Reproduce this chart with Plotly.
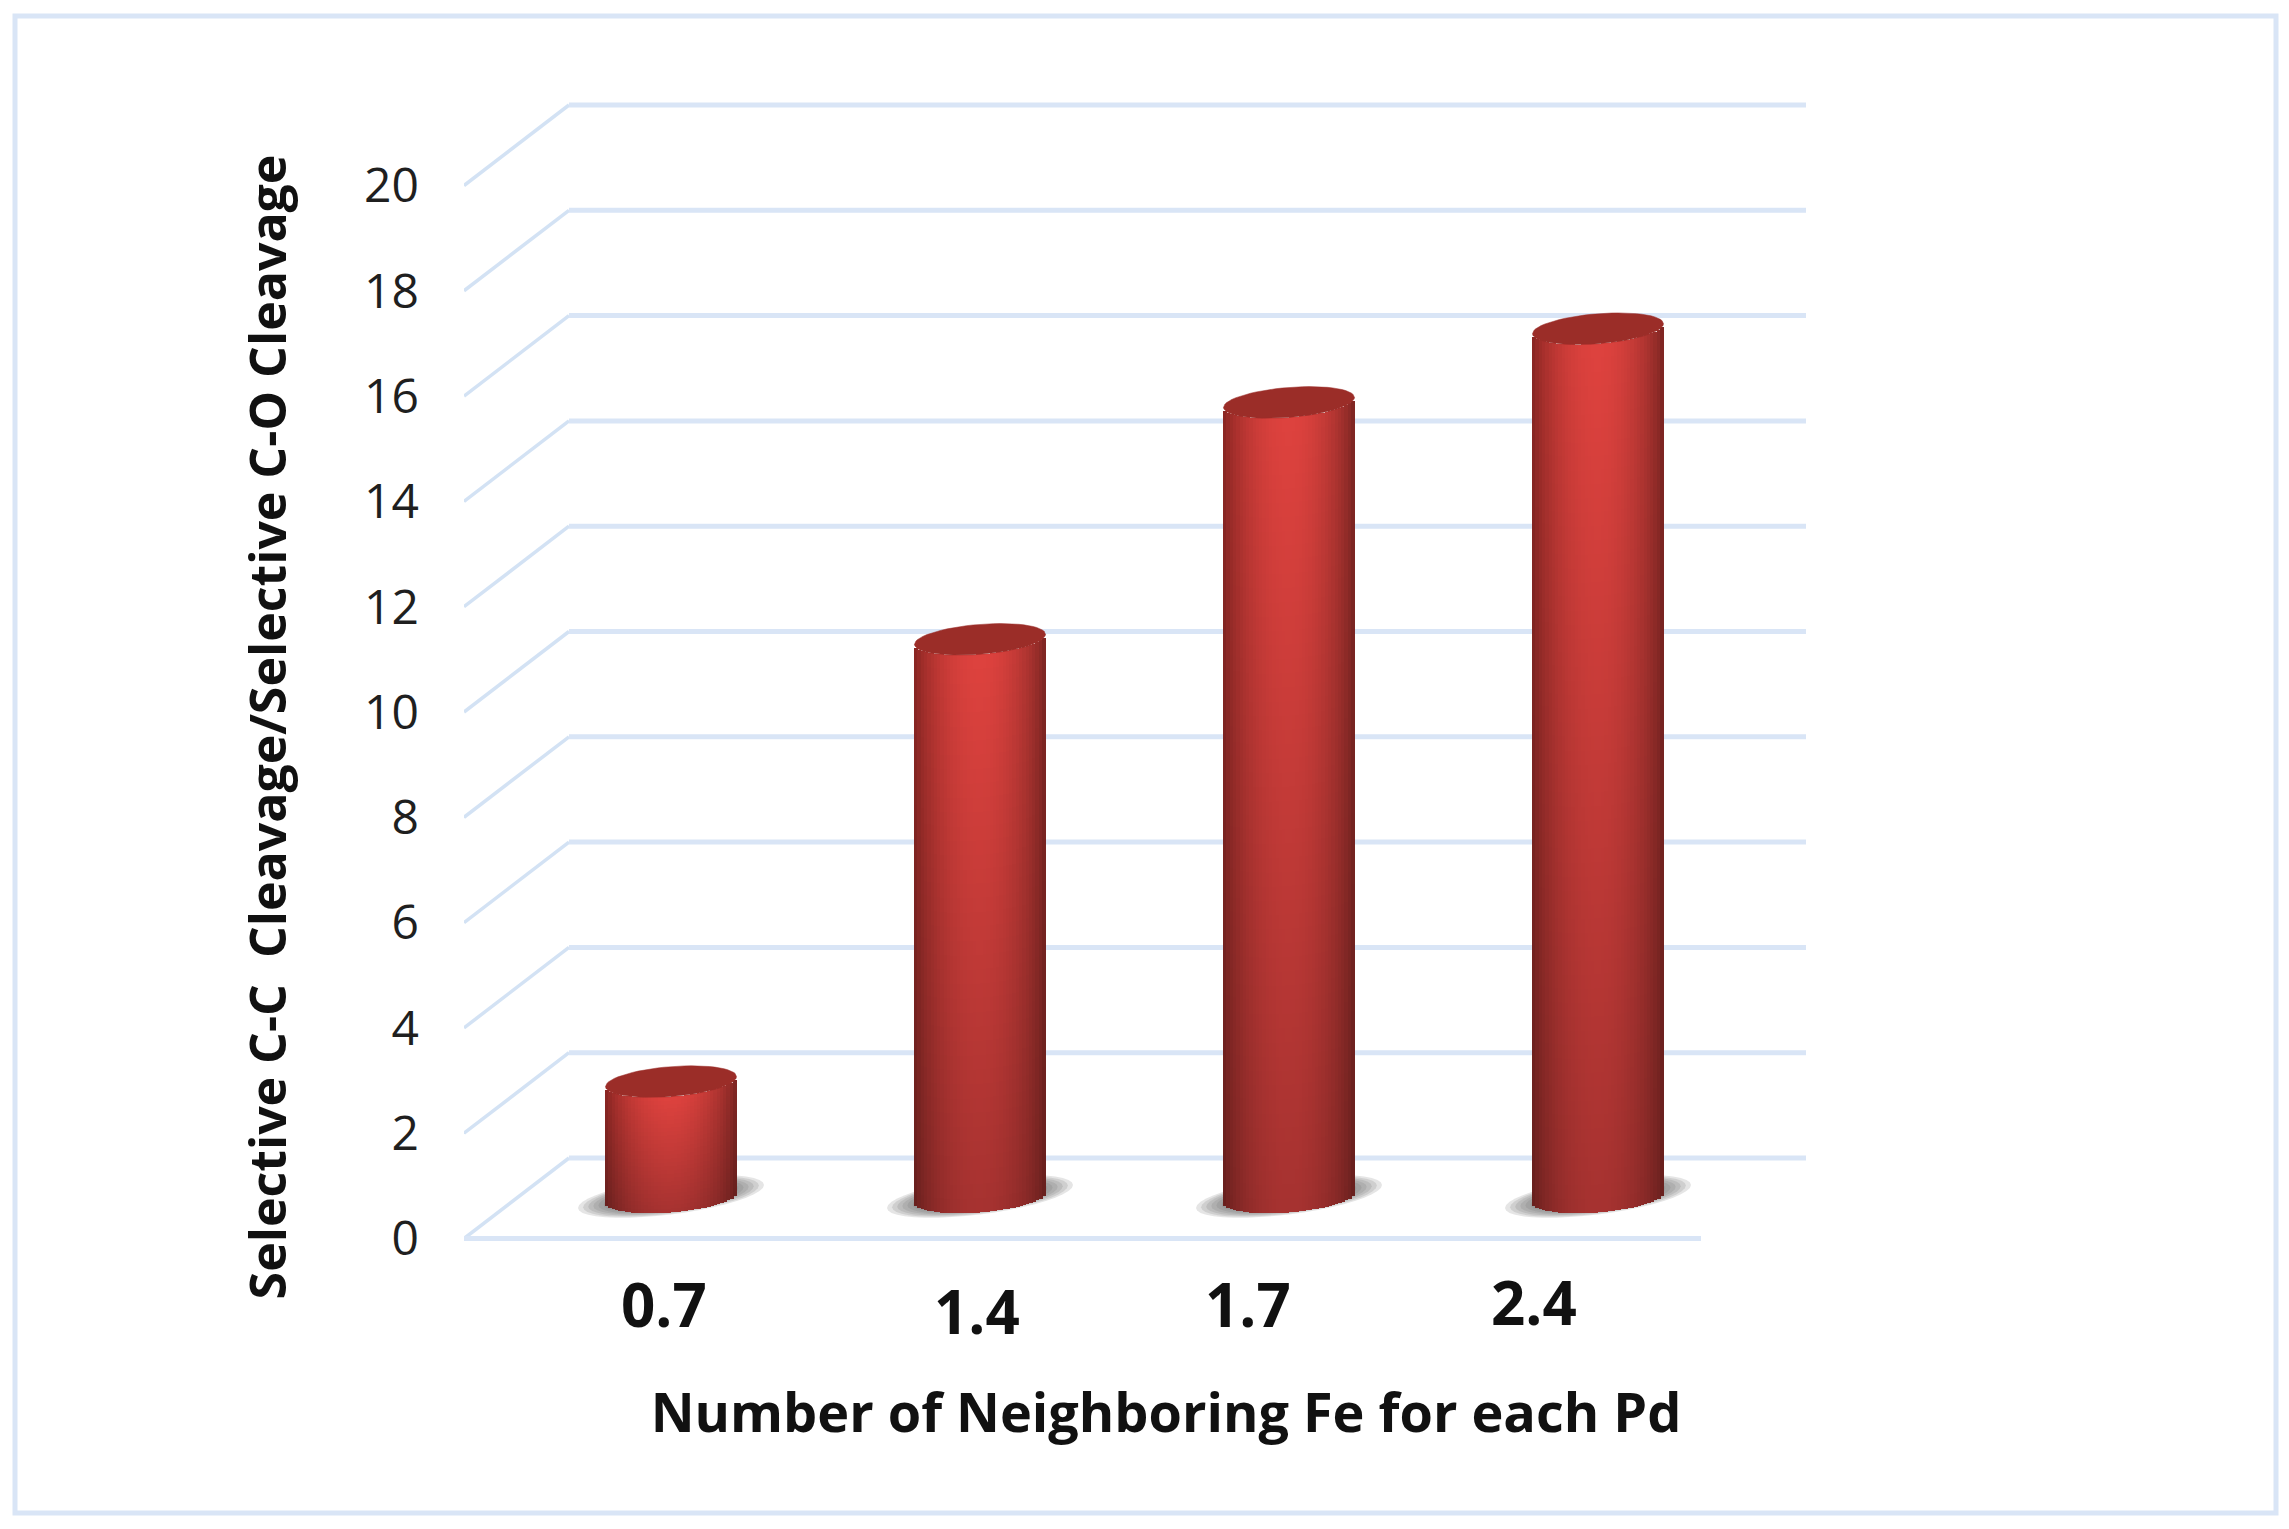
import math
import plotly.graph_objects as go

# values
categories = ["0.7", "1.4", "1.7", "2.4"]
ratio_values = [2.2, 10.6, 15.1, 16.5]
y_ticks = list(range(0, 22, 2))

x_title = "Number of Neighboring Fe for each Pd"
y_title = "Selective C-C \u00a0Cleavage/Selective C-O Cleavage"

# label nudges, the labels do not sit centred under the bars in the original
label_xshift = [-7, -3, -41, -64]
label_yshift = [-65, -72, -65, -63]

W, H = 2289, 1529
PLOT_L, PLOT_R, PLOT_T, PLOT_B = 464, 1868, 60, 1394
ZERO_X, PX_PER_CAT = 671, 309        # pixel of first category, pixels per category
ZERO_Y, PX_PER_UNIT = 1238.5, 52.65  # pixel of value 0, pixels per unit

GRID = "#d9e5f6"
GRID_SIDE = "#d3e2f4"
TEXT = "#1f1f1f"
FONT = "Open Sans"

# depth of the fake 3d box
DEPTH_X = 105 / PX_PER_CAT
DEPTH_Y = 80.5 / PX_PER_UNIT
FLOOR_L = (PLOT_L - ZERO_X) / PX_PER_CAT
FLOOR_R = (1701 - ZERO_X) / PX_PER_CAT
BASE_Y = 0.78   # cylinder base centre sits part way into the floor

# cylinder shape in units of the axes
HALF_W = 65.5 / PX_PER_CAT
CAP_B = 15 / PX_PER_UNIT
CAP_TILT = 5 / PX_PER_UNIT

COLS = 40
ROW_PX = 14


def lerp(a, b, t):
    return a + (b - a) * t


def shade(u, t):
    # u -1..1 across the cylinder, t 0..1 from bottom to top
    h = math.cos(u * math.pi / 2) ** 0.7
    side = 130 if u < 0 else 118
    top = [lerp(side, 222, h), lerp(35, 66, h), lerp(32, 62, h)]
    bot = [lerp(98, 166, h), lerp(30, 50, h), lerp(28, 48, h)]
    r, g, b = [lerp(bot[i], top[i], t) for i in range(3)]
    return f"rgb({r:.0f},{g:.0f},{b:.0f})"


def front_arc(u):
    # lower edge of the tilted ellipse
    return CAP_TILT * u - CAP_B * math.sqrt(max(0, 1 - u * u))


def ellipse(cx, cy, a, b, tilt, n=60):
    xs, ys = [], []
    for i in range(n + 1):
        th = 2 * math.pi * i / n
        xs.append(cx + a * math.cos(th))
        ys.append(cy + tilt * math.cos(th) + b * math.sin(th))
    return xs, ys


fig = go.Figure()

# gridlines of the wall and side panel, below the traces
for v in y_ticks:
    back_y = v + DEPTH_Y
    fig.add_shape(type="line", xref="x", yref="y", layer="below",
                  x0=FLOOR_L, x1=FLOOR_L + DEPTH_X, y0=v, y1=back_y,
                  line=dict(color=GRID_SIDE, width=3.5))
    fig.add_shape(type="line", xref="x", yref="y", layer="below",
                  x0=FLOOR_L + DEPTH_X, x1=FLOOR_R + DEPTH_X, y0=back_y, y1=back_y,
                  line=dict(color=GRID, width=5))
fig.add_shape(type="line", xref="x", yref="y", layer="below",
              x0=FLOOR_L, x1=FLOOR_R, y0=0, y1=0,
              line=dict(color=GRID, width=5))

# outer frame of the picture
fig.add_shape(type="rect", xref="paper", yref="paper", layer="below",
              x0=(15 - PLOT_L) / (PLOT_R - PLOT_L), x1=(2276 - PLOT_L) / (PLOT_R - PLOT_L),
              y0=(PLOT_B - 1513) / (PLOT_B - PLOT_T), y1=(PLOT_B - 16) / (PLOT_B - PLOT_T),
              line=dict(color=GRID, width=5))

for i, val in enumerate(ratio_values):
    # soft floor shadow
    for k in range(8):
        f = 1.0 - k * 0.055
        xs, ys = ellipse(i, BASE_Y + 1 / PX_PER_UNIT, 93 * f / PX_PER_CAT, 18 * f / PX_PER_UNIT,
                         11.5 * f / PX_PER_UNIT, n=40)
        path = "M " + " L ".join(f"{a:.4f},{b:.4f}" for a, b in zip(xs, ys)) + " Z"
        fig.add_shape(type="path", xref="x", yref="y", layer="below", path=path,
                      fillcolor="#707070", opacity=0.18, line=dict(width=0))

    # the body is built from small bars so it can carry a shaded surface
    bx, by, bbase, bcol = [], [], [], []
    rows = max(30, int((val * PX_PER_UNIT) / ROW_PX))
    for c in range(COLS):
        u = -1 + (c + 0.5) * 2 / COLS
        y0 = BASE_Y + front_arc(u)
        y1 = BASE_Y + val + front_arc(u)
        step = (y1 - y0) / rows
        for r in range(rows):
            bx.append(i + u * HALF_W)
            bbase.append(y0 + r * step)
            by.append(step * 1.25 if r < rows - 1 else step)
            bcol.append(shade(u, (r + 0.5) / rows))
    fig.add_trace(go.Bar(x=bx, y=by, base=bbase, width=HALF_W * 2 / COLS * 1.2,
                         marker=dict(color=bcol, line=dict(width=0)),
                         hoverinfo="skip", showlegend=False))

    # cap
    xs, ys = ellipse(i, BASE_Y + val, HALF_W, CAP_B, CAP_TILT)
    fig.add_trace(go.Scatter(x=xs, y=ys, mode="lines", fill="toself", fillcolor="#9b2d28",
                             line=dict(width=0.5, color="#9b2d28"),
                             hoverinfo="skip", showlegend=False))

    # category label
    fig.add_annotation(x=i, y=0, xref="x", yref="y", text=categories[i], showarrow=False,
                       xshift=label_xshift[i], yshift=label_yshift[i],
                       font=dict(family=FONT, size=60, color="#111111", weight=700))

fig.update_xaxes(range=[(PLOT_L - ZERO_X) / PX_PER_CAT, (PLOT_R - ZERO_X) / PX_PER_CAT],
                 showgrid=False, zeroline=False, showline=False, showticklabels=False,
                 title=dict(text=x_title, standoff=0,
                            font=dict(family=FONT, size=54, color="#111111", weight=700)))
fig.update_yaxes(range=[(ZERO_Y - PLOT_B) / PX_PER_UNIT, (ZERO_Y - PLOT_T) / PX_PER_UNIT],
                 tickvals=y_ticks, showgrid=False, zeroline=False, showline=False,
                 ticks="", ticklabelstandoff=44,
                 tickfont=dict(family=FONT, size=48, color=TEXT),
                 title=dict(text=y_title, standoff=61,
                            font=dict(family=FONT, size=50, color="#111111", weight=700)))

fig.update_layout(width=W, height=H, barmode="overlay", bargap=0,
                  margin=dict(l=PLOT_L, r=W - PLOT_R, t=PLOT_T, b=H - PLOT_B),
                  paper_bgcolor="white", plot_bgcolor="rgba(0,0,0,0)", showlegend=False)

fig.write_html("out.html", config={"displayModeBar": False},
               post_script="document.body.style.margin='0';")
